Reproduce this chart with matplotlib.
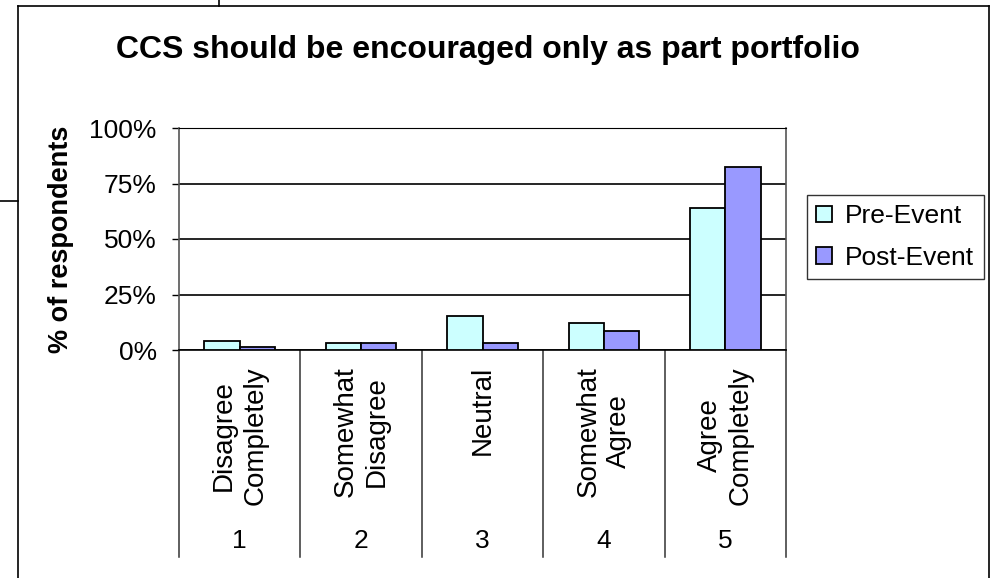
import matplotlib
matplotlib.use("Agg")
import matplotlib.pyplot as plt
from matplotlib.lines import Line2D
from matplotlib.ticker import FuncFormatter
import numpy as np

plt.rcParams['font.family'] = ['Liberation Sans', 'DejaVu Sans']

# Survey data
categories = ["Disagree\nCompletely", "Somewhat\nDisagree", "Neutral",
              "Somewhat\nAgree", "Agree\nCompletely"]
codes = ["1", "2", "3", "4", "5"]
pre_event = [4.2, 3.3, 15.5, 12.0, 64.1]
post_event = [1.5, 3.3, 3.3, 8.6, 82.4]
series_names = ["Pre-Event", "Post-Event"]
y_ticks = [0, 25, 50, 75, 100]

W, H = 996, 578
fig = plt.figure(figsize=(W / 100, H / 100), dpi=100)

def fx(px):
    return px / W

def fy(py):
    return 1 - py / H

# outer frame and stray connector lines
frame_kw = dict(color="black", lw=1.2, transform=fig.transFigure)
fig.add_artist(Line2D([fx(18), fx(18)], [fy(6), fy(578)], **frame_kw))
fig.add_artist(Line2D([fx(18), fx(989)], [fy(6), fy(6)], **frame_kw))
fig.add_artist(Line2D([fx(989), fx(989)], [fy(6), fy(578)], **frame_kw))
fig.add_artist(Line2D([fx(219), fx(219)], [fy(0), fy(6)], **frame_kw))
fig.add_artist(Line2D([fx(0), fx(18)], [fy(201), fy(201)], **frame_kw))

# plot area
left, right, top, bottom = 179, 786, 128, 350
ax = fig.add_axes([fx(left), fy(bottom), fx(right - left), (bottom - top) / H])

x = np.arange(len(categories))
bw = 0.29
ax.bar(x - bw / 2, pre_event, bw, color="#CCFFFF", edgecolor="black",
       linewidth=1.3, label=series_names[0], zorder=3)
ax.bar(x + bw / 2, post_event, bw, color="#9999FF", edgecolor="black",
       linewidth=1.3, label=series_names[1], zorder=3)

ax.set_xlim(-0.5, len(categories) - 0.5)
ax.set_ylim(0, 100)
ax.set_yticks(y_ticks)
ax.yaxis.set_major_formatter(FuncFormatter(lambda v, p: f"{v:.0f}%"))
ax.tick_params(axis="y", direction="out", length=5, width=1, pad=11,
               labelsize=19, colors="black")
ax.set_xticks([])
ax.grid(axis="y", color="black", lw=1.2, zorder=0)

for s in ["left", "right"]:
    ax.spines[s].set_color("#555555")
    ax.spines[s].set_linewidth(1.2)
ax.spines["top"].set_color("black")
ax.spines["bottom"].set_color("black")
ax.spines["bottom"].set_linewidth(1.2)

# multi-level category axis below the plot
xt = ax.get_xaxis_transform()
sep_bottom = (bottom - 557) / (bottom - top)
for b in np.arange(-0.5, len(categories), 1.0):
    ax.add_artist(Line2D([b, b], [0, sep_bottom], color="#333333", lw=1.1,
                         transform=xt, clip_on=False))
lab_top = (bottom - 366) / (bottom - top)
num_y = (bottom - 541) / (bottom - top)
for xi, cat, code in zip(x, categories, codes):
    ax.text(xi, lab_top, cat, rotation=90, ha="center", va="top",
            multialignment="center", fontsize=20, transform=xt,
            linespacing=1.25)
    ax.text(xi, num_y, code, ha="center", va="center", fontsize=19,
            transform=xt)

ax.set_ylabel("% of respondents", fontsize=19.5, fontweight="bold")
ax.yaxis.set_label_coords((74 - left) / (right - left), 0.5)

fig.text(fx(488), fy(50), "CCS should be encouraged only as part portfolio",
         ha="center", va="center", fontsize=23, fontweight="bold")

leg = fig.legend(loc="upper left", bbox_to_anchor=(fx(807), fy(195)),
                 fontsize=19, frameon=True, fancybox=False, edgecolor="black",
                 handlelength=0.6, handleheight=0.6, handletextpad=0.5,
                 borderpad=0.35, labelspacing=0.66, borderaxespad=0)
leg.get_frame().set_linewidth(1.0)

fig.savefig("out.png", dpi=100)
